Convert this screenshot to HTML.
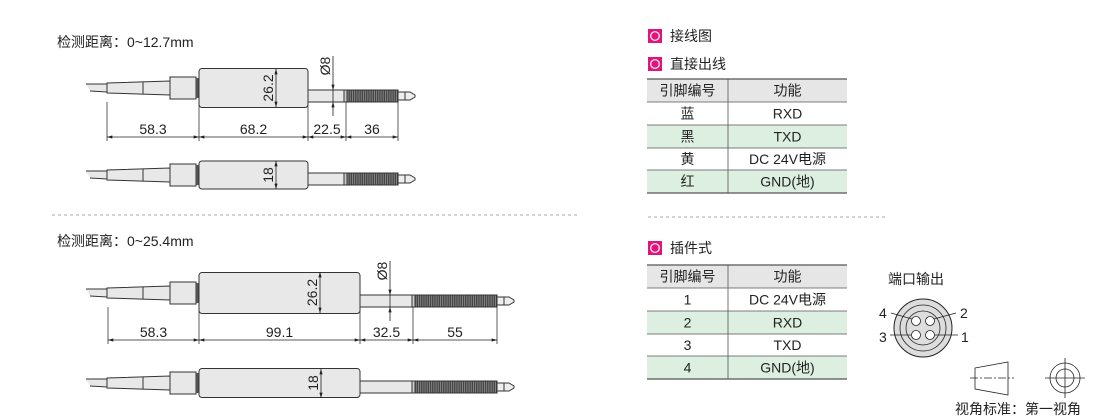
<!DOCTYPE html>
<html><head><meta charset="utf-8"><style>
body{margin:0;background:#fff;}
svg{display:block;font-family:"Liberation Sans","Noto Sans CJK SC",sans-serif;}
</style></head><body>
<svg id="s" width="1110" height="419" viewBox="0 0 1110 419" xmlns="http://www.w3.org/2000/svg">
<defs>
<marker id="a" viewBox="0 0 10 6" refX="10" refY="3" markerWidth="8" markerHeight="4" orient="auto-start-reverse"><path d="M0,0L10,3L0,6z" fill="#222"/></marker>
<pattern id="th" width="2.2" height="4" patternUnits="userSpaceOnUse"><rect width="2.2" height="4" fill="#444"/><rect width="0.9" height="4" fill="#888"/></pattern>
</defs>
<text x="57" y="47" font-size="14" fill="#222">检测距离：0~12.7mm</text>
<text x="57" y="246" font-size="14" fill="#222">检测距离：0~25.4mm</text>
<line x1="52" y1="215" x2="577" y2="215" stroke="#aaa" stroke-dasharray="3,3"/>
<line x1="648" y1="217" x2="885" y2="217" stroke="#aaa" stroke-dasharray="3,3"/>
<g id="g"></g>
</svg>
<script>
const g=document.getElementById('g');let h='';
function probe(cy,bx1,bx2,bh,sx2,tx2,dim){
 const st='stroke="#333" stroke-width="1"';
 h+=`<path d="M86,${cy-4} L107,${cy-4} L107,${cy+4} L90,${cy+3}" fill="#e8e8e8" ${st}/>`;
 h+=`<path d="M107,${cy-5} L170,${cy-7} L170,${cy+7} L107,${cy+5}z" fill="#e8e8e8" ${st}/>`;
 h+=`<line x1="143" y1="${cy-6}" x2="143" y2="${cy+6}" stroke="#333"/>`;
 h+=`<rect x="170" y="${cy-11}" width="26" height="22" fill="#e8e8e8" ${st}/>`;
 h+=`<rect x="196" y="${cy-10}" width="3" height="20" fill="#555"/>`;
 h+=`<rect x="199" y="${cy-bh/2}" width="${bx2-199}" height="${bh}" rx="3" fill="#e8e8e8" ${st}/>`;
 const sy=dim?cy+8:cy+4;
 h+=`<rect x="${bx2}" y="${sy-6}" width="${sx2-bx2}" height="12" fill="#e8e8e8" ${st}/>`;
 h+=`<rect x="${sx2}" y="${sy-6}" width="3" height="12" fill="#ccc" ${st}/>`;
 h+=`<rect x="${sx2+3}" y="${sy-6}" width="${tx2-sx2-3}" height="12" fill="url(#th)" ${st}/>`;
 h+=`<path d="M${tx2},${sy-4} L${tx2+12},${sy-4} L${tx2+17},${sy-1} L${tx2+17},${sy+1} L${tx2+12},${sy+4} L${tx2},${sy+4}z" fill="#eee" ${st}/>`;
 h+=`<line x1="${tx2+7}" y1="${sy-4}" x2="${tx2+7}" y2="${sy+4}" stroke="#333"/>`;
 return sy;
}
function vtext(x,y,t){h+=`<text transform="translate(${x},${y}) rotate(-90)" font-size="14" text-anchor="middle" fill="#222">${t}</text>`;}
function dims(y,xs,labels,phx,sy,bx2,bt,bb,midx){
 for(const x of xs){h+=`<line x1="${x}" y1="${sy+6}" x2="${x}" y2="${y+4}" stroke="#333" stroke-width="0.8"/>`;}
 for(let i=0;i<labels.length;i++){
  h+=`<line x1="${xs[i]}" y1="${y}" x2="${xs[i+1]}" y2="${y}" stroke="#222" stroke-width="0.8" marker-start="url(#a)" marker-end="url(#a)"/>`;
  h+=`<text x="${(xs[i]+xs[i+1])/2}" y="${y-3}" font-size="14" text-anchor="middle" fill="#222">${labels[i]}</text>`;
 }
 h+=`<line x1="${phx}" y1="${sy-40}" x2="${phx}" y2="${sy-6}" stroke="#222" stroke-width="0.8" marker-end="url(#a)"/>`;
 h+=`<line x1="${phx}" y1="${sy+20}" x2="${phx}" y2="${sy+6}" stroke="#222" stroke-width="0.8" marker-end="url(#a)"/>`;
 h+=`<line x1="${phx}" y1="${sy-6}" x2="${phx}" y2="${sy+6}" stroke="#222" stroke-width="0.8"/>`;
 vtext(phx-3,sy-30,"Ø8");
 h+=`<line x1="${midx}" y1="${bt}" x2="${midx}" y2="${bb}" stroke="#222" stroke-width="0.8" marker-start="url(#a)" marker-end="url(#a)"/>`;
 vtext(midx-3,(bt+bb)/2,"26.2");
}
let sy=probe(88,199,308,39,344,398,true);
dims(137,[107,199,308,346,398],["58.3","68.2","22.5","36"],333,sy,308,69,107,276);
sy=probe(175,199,308,28,344,398,false);
h+=`<line x1="276" y1="161" x2="276" y2="189" stroke="#222" stroke-width="0.8" marker-start="url(#a)" marker-end="url(#a)"/>`;vtext(273,175,"18");
sy=probe(293,199,360,41,412,497,true);
dims(340,[108,199,360,413,497],["58.3","99.1","32.5","55"],390,sy,360,272,313,320);
sy=probe(383,199,360,29,412,497,false);
h+=`<line x1="321" y1="369" x2="321" y2="398" stroke="#222" stroke-width="0.8" marker-start="url(#a)" marker-end="url(#a)"/>`;vtext(318,383,"18");
function head(y,t){h+=`<rect x="648" y="${y-7}" width="14" height="14" fill="#e0147a"/><circle cx="655" cy="${y}" r="4.3" fill="none" stroke="#fff" stroke-width="1.2"/><text x="670" y="${y+5}" font-size="14" fill="#222">${t}</text>`;}
head(36,"接线图");head(64,"直接出线");head(248,"插件式");
function table(y0,rows){
 const X1=647,X2=847,XM=728;
 h+=`<rect x="${X1}" y="${y0}" width="${X2-X1}" height="23" fill="#e6e6e6"/>`;
 let ys=[y0,y0+23,y0+46,y0+69,y0+91,y0+114];
 rows.forEach((r,i)=>{if(i%2==1)h+=`<rect x="${X1}" y="${ys[i+1]}" width="${X2-X1}" height="${ys[i+2]-ys[i+1]}" fill="#dcefe0"/>`;});
 for(const y of ys)h+=`<line x1="${X1}" y1="${y}" x2="${X2}" y2="${y}" stroke="#555" stroke-width="${(y==y0||y==ys[5])?1.2:0.8}"/>`;
 h+=`<line x1="${XM}" y1="${y0}" x2="${XM}" y2="${ys[5]}" stroke="#555" stroke-width="0.8"/>`;
 const all=[["引脚编号","功能"]].concat(rows);
 all.forEach((r,i)=>{const cy=(ys[i]+ys[i+1])/2+5;
  h+=`<text x="${(X1+XM)/2}" y="${cy}" font-size="14" text-anchor="middle" fill="#222">${r[0]}</text><text x="${(XM+X2)/2}" y="${cy}" font-size="14" text-anchor="middle" fill="#222">${r[1]}</text>`;});
}
table(79,[["蓝","RXD"],["黑","TXD"],["黄","DC 24V电源"],["红","GND(地)"]]);
table(265,[["1","DC 24V电源"],["2","RXD"],["3","TXD"],["4","GND(地)"]]);
h+=`<text x="888" y="284" font-size="14" fill="#222">端口输出</text>`;
const cx=923,cy=328;
h+=`<circle cx="${cx}" cy="${cy}" r="29" fill="#ddd" stroke="#222"/><circle cx="${cx}" cy="${cy}" r="23" fill="#ddd" stroke="#222" stroke-width="0.8"/><circle cx="${cx}" cy="${cy}" r="17" fill="#ddd" stroke="#222" stroke-width="0.8"/>`;
[[-7,-7],[7,-7],[-7,7],[7,7]].forEach(p=>h+=`<circle cx="${cx+p[0]}" cy="${cy+p[1]}" r="4.5" fill="#fff" stroke="#222" stroke-width="0.8"/>`);
h+=`<line x1="891" y1="313" x2="912" y2="319" stroke="#222" stroke-width="0.8"/><line x1="934" y1="319" x2="956" y2="313" stroke="#222" stroke-width="0.8"/><line x1="890" y1="335" x2="911" y2="335" stroke="#222" stroke-width="0.8"/><line x1="935" y1="335" x2="958" y2="335" stroke="#222" stroke-width="0.8"/>`;
h+=`<text x="879" y="318" font-size="14" fill="#222">4</text><text x="960" y="318" font-size="14" fill="#222">2</text><text x="879" y="342" font-size="14" fill="#222">3</text><text x="961" y="342" font-size="14" fill="#222">1</text>`;
h+=`<path d="M975,368 L1008,362 L1008,395 L975,389z" fill="none" stroke="#222" stroke-width="0.8"/><line x1="970" y1="378" x2="1014" y2="378" stroke="#222" stroke-width="0.8" stroke-dasharray="8,2,2,2"/>`;
h+=`<circle cx="1065" cy="378" r="15" fill="none" stroke="#222" stroke-width="0.8"/><circle cx="1065" cy="378" r="9" fill="none" stroke="#222" stroke-width="0.8"/><line x1="1045" y1="378" x2="1085" y2="378" stroke="#222" stroke-width="0.8"/><line x1="1065" y1="358" x2="1065" y2="398" stroke="#222" stroke-width="0.8"/>`;
h+=`<text x="955" y="414" font-size="14" fill="#222">视角标准：第一视角</text>`;
g.innerHTML=h;
</script>
</body></html>
